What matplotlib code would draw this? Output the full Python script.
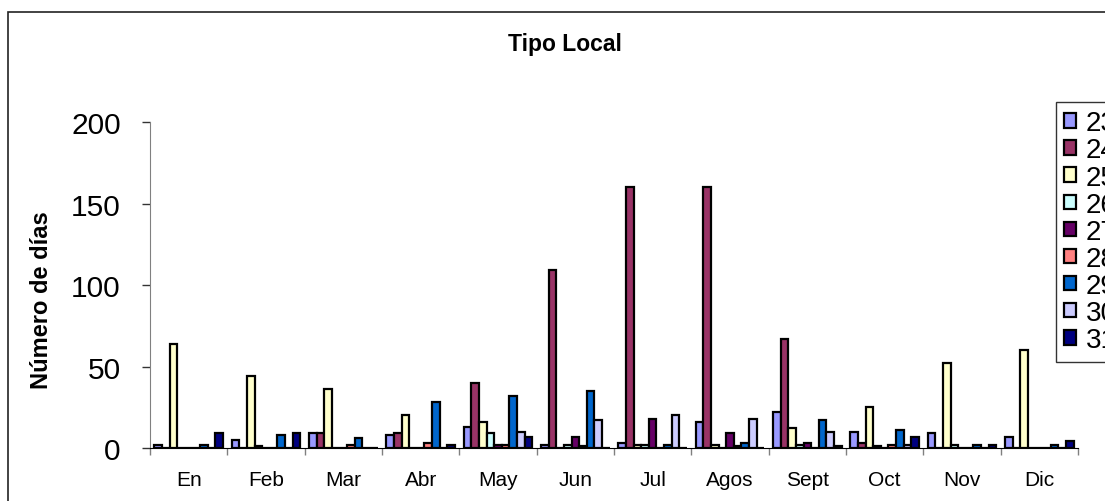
import numpy as np
import matplotlib.pyplot as plt
from matplotlib.patches import Rectangle

plt.rcParams['font.family'] = ['Liberation Sans', 'DejaVu Sans']

months = ['En', 'Feb', 'Mar', 'Abr', 'May', 'Jun', 'Jul', 'Agos', 'Sept', 'Oct', 'Nov', 'Dic']
series = ['23', '24', '25', '26', '27', '28', '29', '30', '31']

# number of days per month, one list per series
s23 = [2, 5, 9, 8, 13, 2, 3, 16, 22, 10, 9, 7]
s24 = [0, 0, 9, 9, 40, 109, 160, 160, 67, 3, 0, 0]
s25 = [64, 44, 36, 20, 16, 0, 2, 2, 12, 25, 52, 60]
s26 = [0, 1, 0, 0, 9, 2, 2, 0, 2, 1, 2, 0]
s27 = [0, 0, 0, 0, 2, 7, 18, 9, 3, 0, 0, 0]
s28 = [0, 0, 2, 3, 2, 1, 0, 1, 0, 2, 0, 0]
s29 = [2, 8, 6, 28, 32, 35, 2, 3, 17, 11, 2, 2]
s30 = [0, 0, 0, 0, 10, 17, 20, 18, 10, 2, 0, 0]
s31 = [9, 9, 0, 2, 7, 0, 0, 0, 1, 7, 2, 4]
values = [s23, s24, s25, s26, s27, s28, s29, s30, s31]

colors = ['#9999FF', '#993366', '#FFFFCC', '#CCFFFF', '#660066',
          '#FF8080', '#0066CC', '#CCCCFF', '#000080']

fig = plt.figure(figsize=(11.05, 5.02), dpi=100)
ax = fig.add_axes([150 / 1105, 1 - 449 / 502, 928 / 1105, 325.7 / 502])

x = np.arange(len(months))
w = 0.099
for j, (name, vals) in enumerate(zip(series, values)):
    ax.bar(x + (j - 4) * w, vals, width=w, color=colors[j],
           edgecolor='black', linewidth=1.6, label=name, zorder=3)

ax.set_xlim(-0.5, 11.5)
ax.set_ylim(0, 200)
ax.set_yticks([0, 50, 100, 150, 200])
ax.tick_params(axis='y', labelsize=21.5, length=6, width=1, pad=15, colors='#333333')
ax.tick_params(axis='y', labelcolor='black')

# category boundaries as major ticks, month names on minor ticks
ax.set_xticks(np.arange(-0.5, 12, 1))
ax.set_xticklabels([])
ax.set_xticks(x, minor=True)
ax.set_xticklabels(months, minor=True)
ax.tick_params(axis='x', which='major', length=5, width=1, colors='#808080')
ax.tick_params(axis='x', which='minor', length=0, labelsize=15, pad=16)

for s in ['top', 'right']:
    ax.spines[s].set_visible(False)
ax.spines['left'].set_color('#808080')
ax.spines['bottom'].set_color('black')
ax.spines['bottom'].set_zorder(4)

fig.text(565 / 1105, 1 - 44 / 502, 'Tipo Local', ha='center', va='center',
         fontsize=16.5, fontweight='bold')
fig.text(42 / 1105, 1 - 300 / 502, 'Número de días', ha='center', va='center',
         rotation=90, fontsize=17, fontweight='bold')

# outer chart frame (cut by the image border)
fig.patches.append(Rectangle((8 / 1105, -0.2), 1.2, 1.2 - 13 / 502,
                             transform=fig.transFigure, fill=False,
                             edgecolor='#222222', linewidth=1.2))

leg = ax.legend(loc='upper left', bbox_to_anchor=(1056 / 1105, 1 - 103 / 502),
                bbox_transform=fig.transFigure, fontsize=20, frameon=True,
                fancybox=False, edgecolor='black', borderpad=0.3,
                handlelength=0.42, handleheight=0.42, handletextpad=0.35,
                labelspacing=0.04, borderaxespad=0)
leg.get_frame().set_linewidth(1)

fig.savefig('out.png', dpi=100)
